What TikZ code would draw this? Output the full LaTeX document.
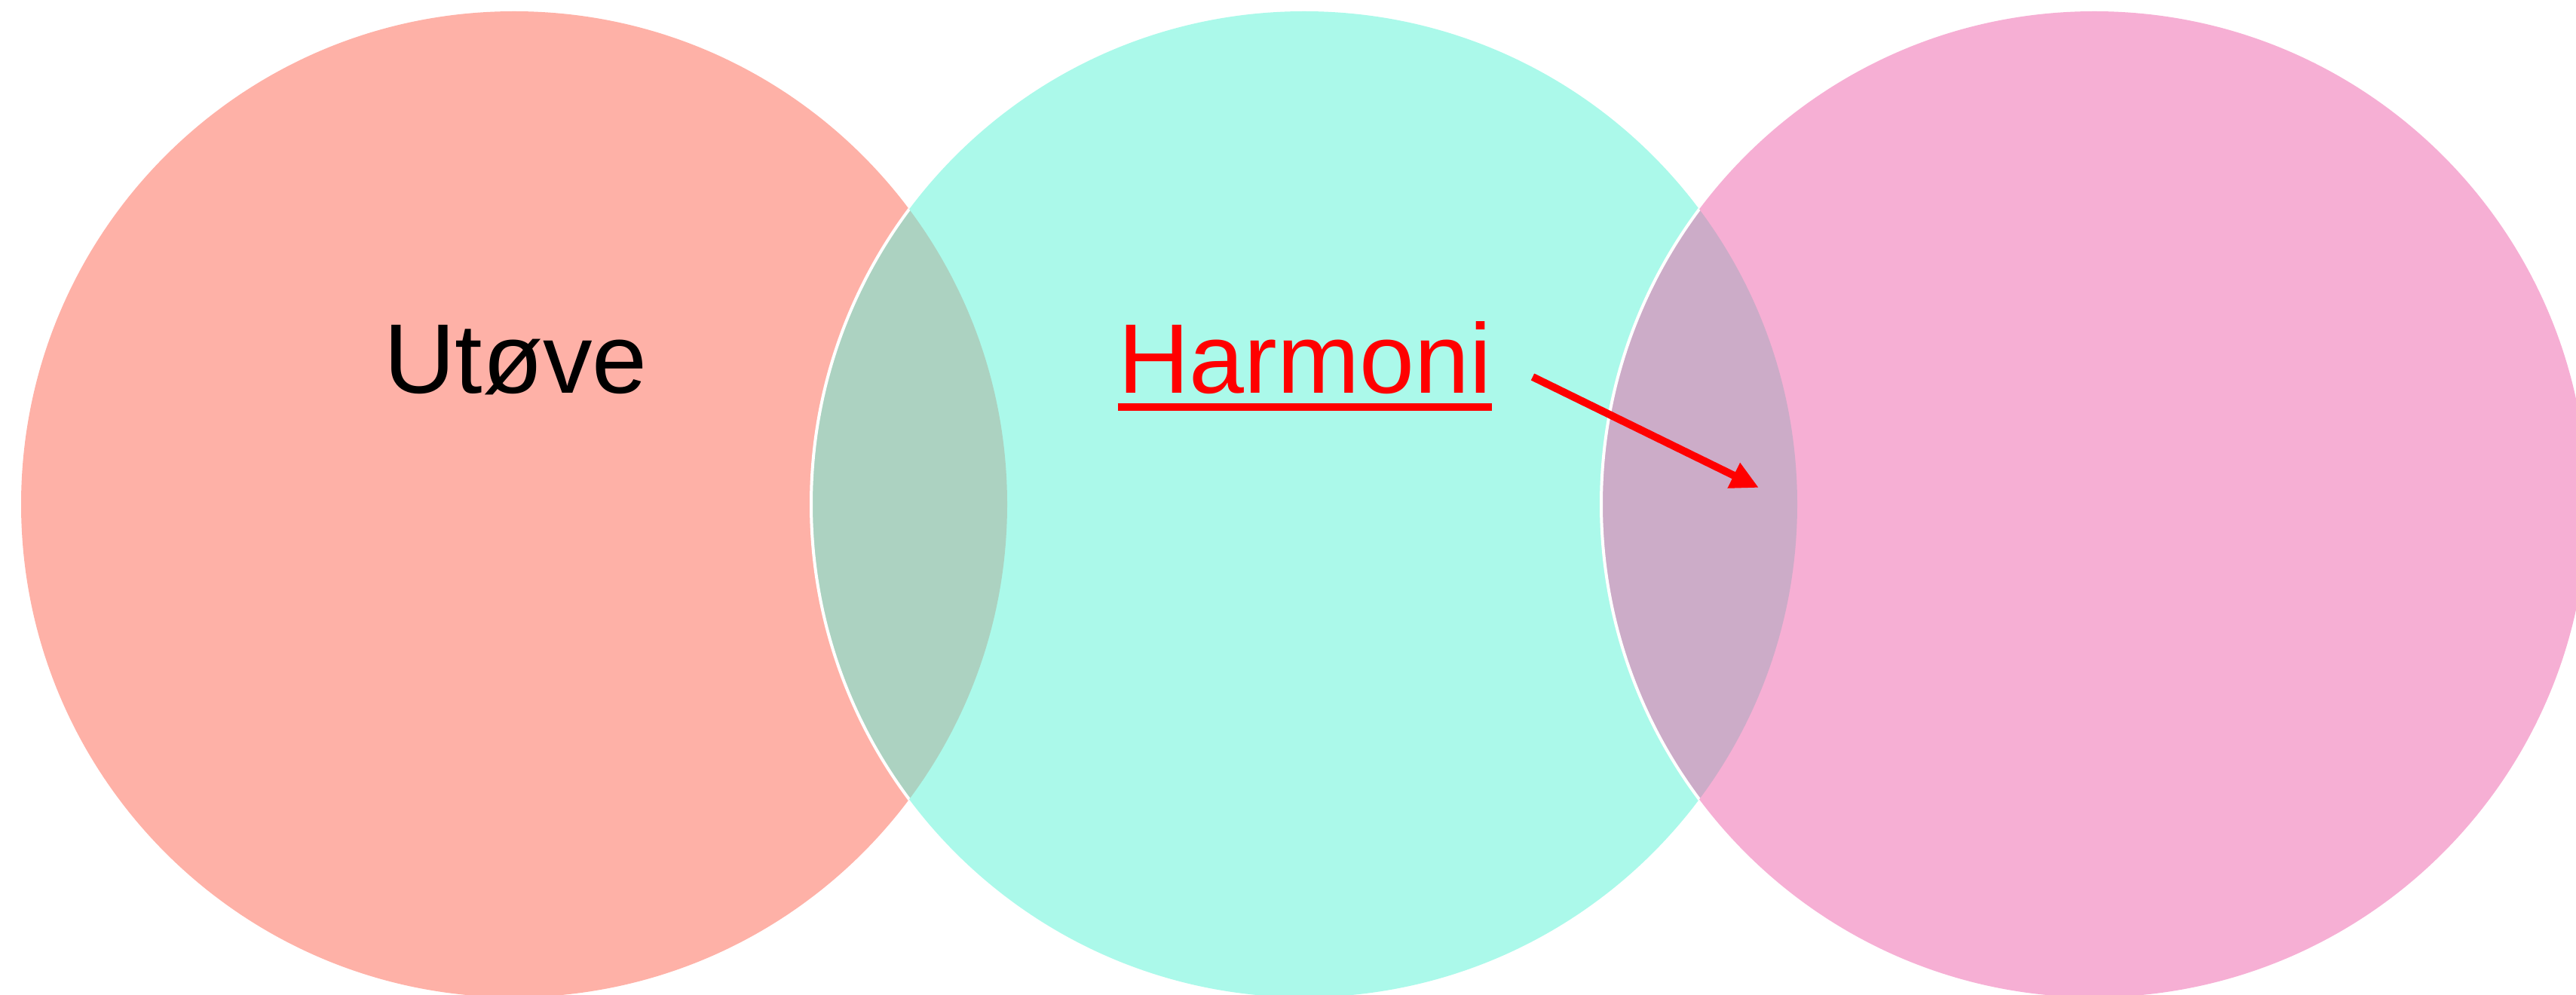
\documentclass[tikz,border=0pt]{standalone}
\usepackage{fontspec}
\setmainfont{Liberation Sans}
\usetikzlibrary{arrows.meta}
\definecolor{laks}{HTML}{FEB1A7}
\definecolor{turkis}{HTML}{ABF9EA}
\definecolor{rosa}{HTML}{F6AFD4}
\definecolor{gronngraa}{HTML}{ACD2C1}
\definecolor{lilla}{HTML}{CCACC8}
\tikzset{ord/.style={inner sep=0pt,anchor=base,font=\fontsize{37.3}{45}\selectfont}}
\begin{document}
\begin{tikzpicture}
                    \useasboundingbox (0,0) rectangle (34.17,-13.2);
                    \fill[laks] (6.82,-6.69) circle (6.54);
                    \fill[turkis] (17.30,-6.69) circle (6.54);
                    \fill[rosa] (27.78,-6.69) circle (6.54);
                    \begin{scope}
                        \clip (6.82,-6.69) circle (6.54);
                        \fill[gronngraa] (17.30,-6.69) circle (6.54);
                        \draw[white,line width=0.4mm] (17.30,-6.69) circle (6.54);
                    \end{scope}
                    \begin{scope}
                        \clip (17.30,-6.69) circle (6.54);
                        \fill[lilla] (27.78,-6.69) circle (6.54);
                        \draw[white,line width=0.4mm] (27.78,-6.69) circle (6.54);
                    \end{scope}
                    \node[ord] (utove) at (6.84,-5.22) {Utøve};
                    \node[ord,text=red] (harmoni) at (17.31,-5.22) {Harmoni};
                    \draw[red,line width=1mm] ([yshift=-0.18cm]harmoni.base west) -- ([yshift=-0.18cm]harmoni.base east);
                    \coordinate (pilstart) at (20.33,-5.00);
                    \coordinate (pilslutt) at (23.33,-6.47);
                    \draw[red,line width=1mm,-{Triangle[length=0.37cm,width=0.35cm]}] (pilstart) -- (pilslutt);
                \end{tikzpicture}
\end{document}
